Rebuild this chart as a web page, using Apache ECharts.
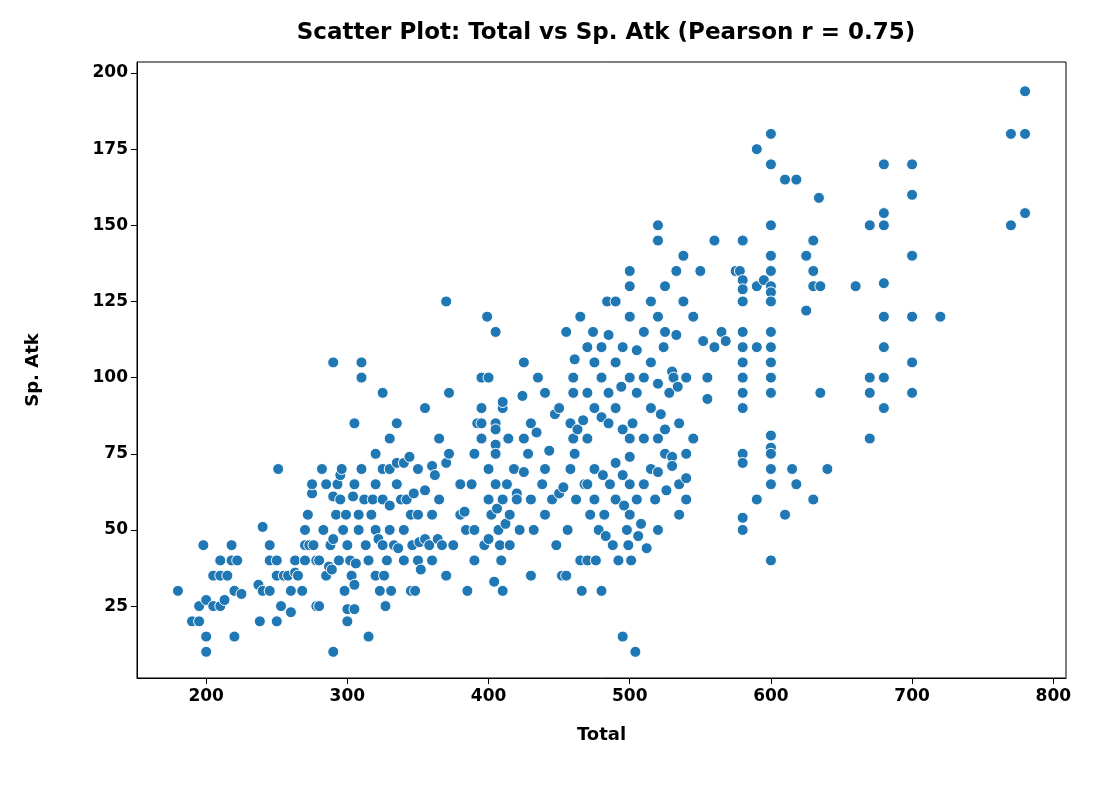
<!DOCTYPE html>
<html>
<head>
<meta charset="utf-8">
<script src="https://cdn.jsdelivr.net/npm/echarts@6/dist/echarts.min.js"></script>
<style>html,body{margin:0;padding:0;background:#fff}#chart{width:1101px;height:785px}</style>
</head>
<body>
<div id="chart"></div>
<script>
// [Total, Sp. Atk] pairs, grouped by total band
const band200 = [[180,30],[190,20],[195,25],[195,20],[198,45],[200,27],[200,15],[200,10],[205,35],[205,25],[210,40],[210,35],[210,25],[213,27],[215,35],[218,45],[218,40],[220,30],[220,15],[222,40],[225,29],[237,32],[238,20],[240,51],[240,30],[245,45],[245,40],[245,30],[250,40],[250,35],[250,20],[251,70],[253,25],[255,35],[258,35],[260,30],[260,23],[263,40],[263,36],[265,35],[268,30]];
const band300 = [[270,50],[270,40],[270,45],[272,55],[273,45],[275,62],[275,65],[276,45],[278,40],[278,25],[280,25],[280,40],[282,70],[283,50],[285,65],[285,35],[287,38],[288,45],[289,37],[290,105],[290,10],[290,47],[290,61],[292,55],[293,65],[294,40],[295,60],[295,68],[296,70],[297,50],[298,30],[299,55],[300,45],[300,20],[300,24],[302,40],[303,35],[304,61],[305,85],[305,65],[305,24],[305,32],[306,39],[308,55],[308,50],[310,105],[310,100],[310,70],[312,60],[313,45],[315,15],[315,40],[317,55],[318,60],[320,65],[320,75],[320,35],[320,50],[322,47],[323,30],[325,95],[325,70],[325,60],[325,45],[326,35],[327,25],[328,40],[330,80],[330,70],[330,58],[330,50],[331,30],[333,45],[335,85],[335,65],[335,72],[336,44],[338,60],[340,40],[340,50],[340,72],[342,60],[344,74],[345,30],[345,55],[346,45],[347,62],[348,30],[350,70],[350,55],[350,40],[351,46],[352,37],[355,90],[355,63],[355,47],[358,45],[360,71],[360,55],[360,40],[362,68],[364,47]];
const band400 = [[365,80],[365,60],[367,45],[370,125],[370,72],[370,35],[372,75],[372,95],[375,45],[380,65],[380,55],[383,56],[384,50],[385,30],[388,65],[390,75],[390,50],[390,40],[392,85],[395,100],[395,90],[395,80],[395,85],[397,45],[399,120],[400,100],[400,70],[400,60],[400,47],[402,55],[404,33],[405,115],[405,85],[405,78],[405,83],[405,75],[405,65],[406,57],[407,50],[408,45],[409,40],[410,90],[410,92],[410,60],[410,30],[412,52],[413,65],[414,80],[415,55],[415,45],[418,70],[420,62],[420,60],[422,50],[424,94],[425,105],[425,80],[425,69],[428,75],[430,85],[430,60],[430,35],[432,50],[434,82],[435,100],[438,65],[440,70],[440,55],[440,95],[443,76],[445,60],[447,88],[448,45],[450,90],[450,62]];
const band500 = [[452,35],[453,64],[455,115],[455,35],[456,50],[458,85],[458,70],[460,100],[460,95],[460,80],[461,106],[461,75],[462,60],[463,83],[465,120],[465,40],[466,30],[467,86],[468,65],[470,110],[470,95],[470,80],[470,65],[470,40],[472,55],[474,115],[475,105],[475,90],[475,70],[475,60],[476,40],[478,50],[480,110],[480,100],[480,87],[480,30],[481,68],[482,55],[483,48],[484,125],[485,114],[485,95],[485,85],[486,65],[488,45],[490,125],[490,105],[490,90],[490,72],[490,60],[492,40],[494,97],[495,15],[495,110],[495,83],[495,68],[496,58],[498,50],[499,45],[500,135],[500,130],[500,120],[500,100],[500,80],[500,74],[500,65],[500,55],[501,40],[502,85],[504,10],[505,109],[505,95],[505,60],[506,48],[508,52],[510,115],[510,100],[510,80],[510,65],[512,44],[515,125],[515,105],[515,90],[515,70],[518,60],[520,150],[520,145],[520,120],[520,98],[520,80],[520,69],[520,50],[522,88],[524,110],[525,130],[525,115],[525,83],[525,75],[526,63],[528,95],[530,102],[530,74],[530,71],[531,100],[533,114],[533,135],[534,97],[535,85],[535,65],[535,55],[538,125],[538,140],[540,100],[540,75],[540,60],[540,67]];
const band600 = [[545,120],[545,80],[550,135],[552,112],[555,100],[555,93],[560,145],[560,110],[565,115],[568,112],[575,135],[578,135],[580,145],[580,132],[580,129],[580,125],[580,115],[580,110],[580,105],[580,100],[580,95],[580,90],[580,75],[580,72],[580,54],[580,50],[590,175],[590,130],[590,110],[590,60],[595,132],[600,180],[600,170],[600,150],[600,140],[600,135],[600,130],[600,128],[600,125],[600,115],[600,110],[600,105],[600,100],[600,95],[600,81],[600,77],[600,75],[600,70],[600,65],[600,40],[610,165],[610,55],[615,70],[618,165],[618,65],[625,140],[625,122],[630,145],[630,135],[630,130],[630,60],[634,159],[635,130],[635,95],[640,70]];
const band700 = [[660,130],[670,150],[670,100],[670,95],[670,80],[680,170],[680,154],[680,150],[680,131],[680,120],[680,110],[680,100],[680,90],[700,170],[700,160],[700,140],[700,120],[700,105],[700,95],[720,120],[770,180],[770,150],[780,194],[780,180],[780,154]];
const xTicks = [200, 300, 400, 500, 600, 700, 800];
const yTicks = [25, 50, 75, 100, 125, 150, 175, 200];

const points = [].concat(band200, band300, band400, band500, band600, band700);
const font = "DejaVu Sans";
const chart = echarts.init(document.getElementById("chart"));

const axisCommon = {
  axisLine: { show: true, onZero: false, lineStyle: { color: "#000", width: 1 } },
  axisTick: { show: true, inside: false, length: 6, lineStyle: { color: "#000" } },
  axisLabel: { color: "#000", fontFamily: font, fontWeight: "bold", fontSize: 17 },
  splitLine: { show: false },
  nameLocation: "middle",
  nameTextStyle: { color: "#000", fontFamily: font, fontWeight: "bold", fontSize: 18 }
};

chart.setOption({
  animation: false,
  title: {
    text: "Scatter Plot: Total vs Sp. Atk (Pearson r = 0.75)",
    left: 601, top: 17, textAlign: "center",
    textStyle: { fontFamily: font, fontWeight: "bold", fontSize: 23, color: "#000" }
  },
  grid: { left: 137, right: 35, top: 62, bottom: 107, show: true, borderColor: "#000", borderWidth: 1 },
  xAxis: Object.assign({}, axisCommon, {
    type: "value", min: 151, max: 809, name: "Total", nameGap: 48,
    axisTick: Object.assign({}, axisCommon.axisTick, { customValues: xTicks }),
    axisLabel: Object.assign({}, axisCommon.axisLabel, { customValues: xTicks, margin: 10 })
  }),
  yAxis: Object.assign({}, axisCommon, {
    type: "value", min: 1.4, max: 203.6, name: "Sp. Atk", nameGap: 95,
    axisTick: Object.assign({}, axisCommon.axisTick, { customValues: yTicks }),
    axisLabel: Object.assign({}, axisCommon.axisLabel, { customValues: yTicks, margin: 9 })
  }),
  series: [{
    type: "scatter",
    data: points,
    symbolSize: 11,
    itemStyle: { color: "#1f77b4", borderColor: "#fff", borderWidth: 1, opacity: 1 }
  }]
});
</script>
</body>
</html>
